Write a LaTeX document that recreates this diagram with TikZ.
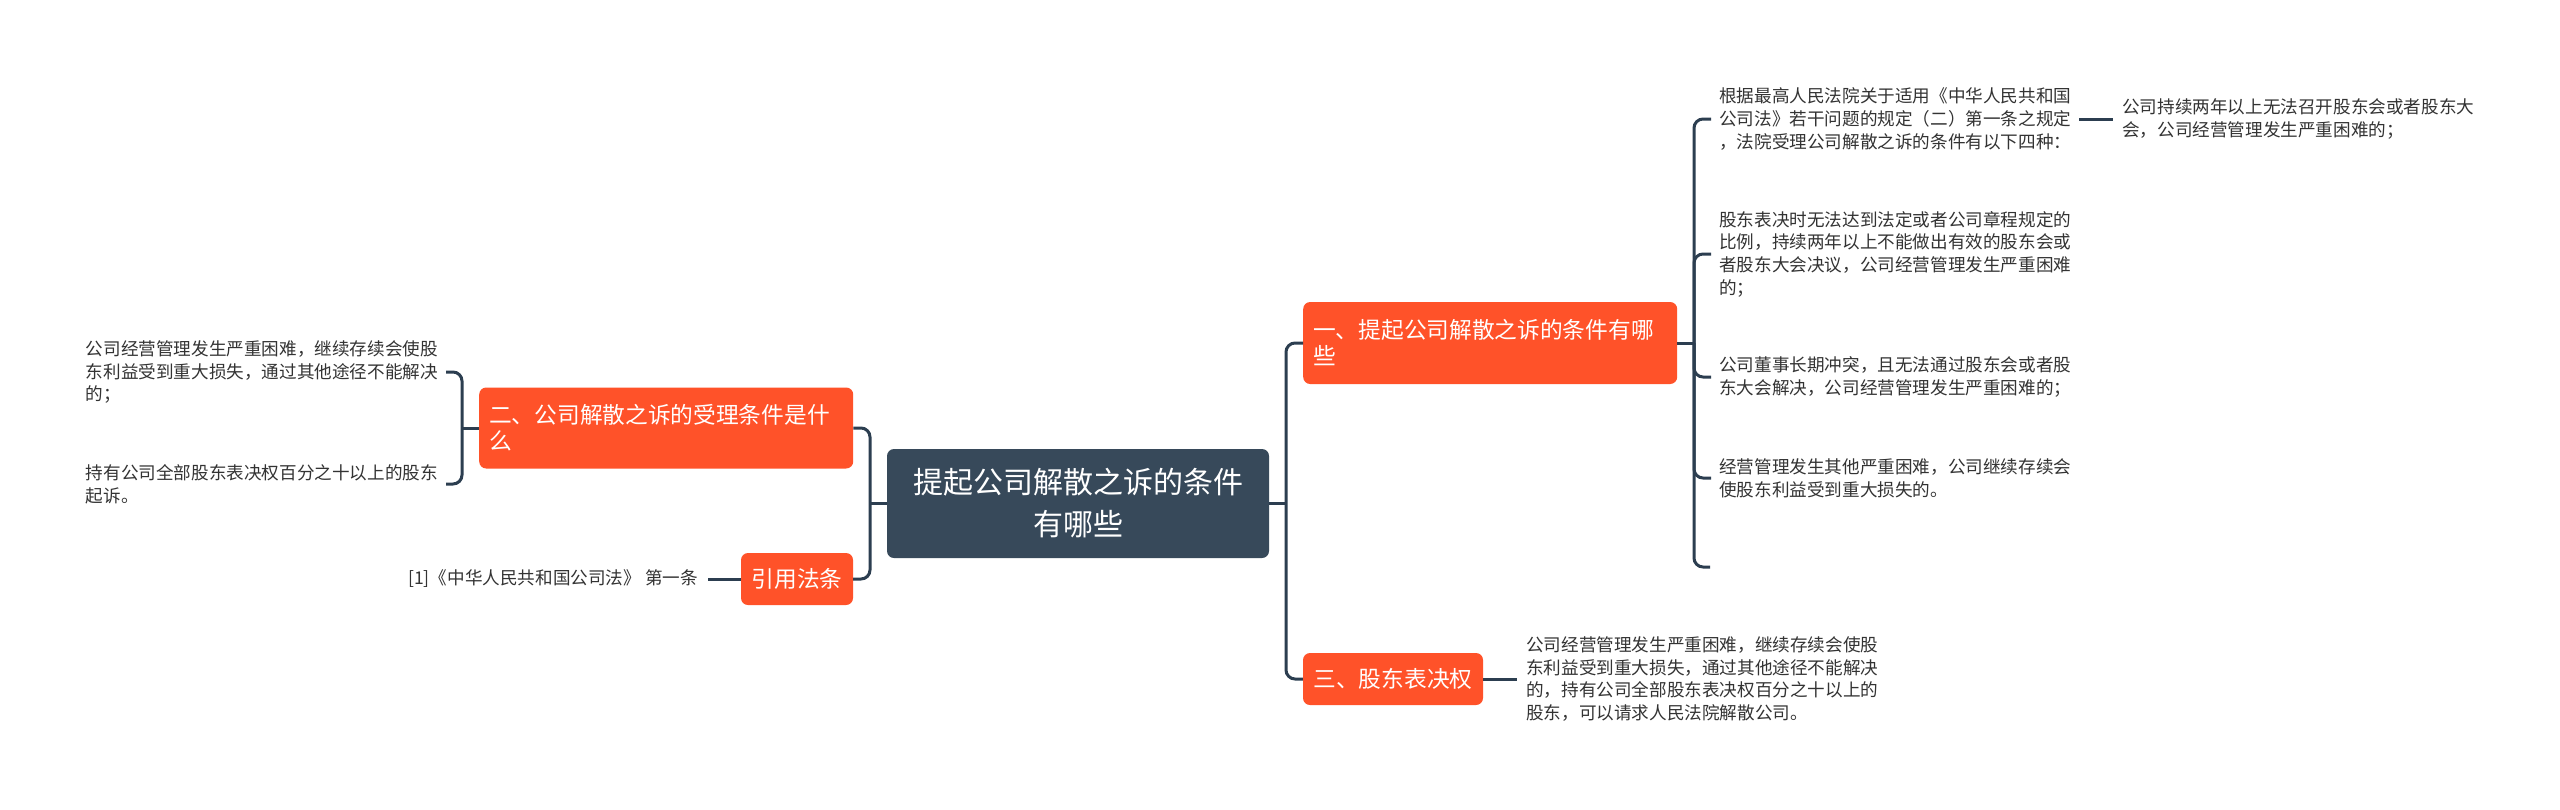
\documentclass[tikz,border=0pt]{standalone}
\usepackage{fontspec}
\setmainfont{Noto Sans CJK SC}
\usetikzlibrary{calc}
\definecolor{orng}{HTML}{FF5229}
\definecolor{dark}{HTML}{37495A}
\definecolor{lnc}{HTML}{2C3E50}
\definecolor{txt}{HTML}{333333}
\begin{document}
\begin{tikzpicture}[x=1pt,y=-1pt,
 link/.style={draw=lnc,line width=3pt,rounded corners=9pt},
 rootbox/.style={fill=dark,text=white,rounded corners=7pt,minimum width=382pt,minimum height=109pt,align=center,font=\fontsize{30}{42}\selectfont,inner sep=0pt},
 subbox/.style={fill=orng,text=white,rounded corners=7pt,align=left,font=\fontsize{22.7}{26}\selectfont,inner xsep=10pt,inner ysep=0pt},
 leaf/.style={text=txt,align=left,font=\fontsize{17.6}{22.7}\selectfont,inner xsep=8pt,inner ysep=0pt}]
\useasboundingbox[fill=white] (0,0) rectangle (2560,809);

% root
\node[rootbox] (root) at (1078,503.5) {提起公司解散之诉的条件\\有哪些};

% main branches
\node[subbox,anchor=west,text width=354pt,minimum height=82pt] (b1) at (1303,343) {一、提起公司解散之诉的条件有哪\\些};
\node[subbox,anchor=west,text width=354pt,minimum height=81pt] (b2) at (479,428) {二、公司解散之诉的受理条件是什\\么};
\node[subbox,align=center,minimum width=112pt,minimum height=52pt] (cite) at (797,579) {引用法条};
\node[subbox,align=center,minimum width=180pt,minimum height=52pt] (b3) at (1393,679) {三、股东表决权};

% trunk coordinates
\coordinate (rt) at (1286,503.5);
\coordinate (lt) at (870,503.5);
\coordinate (bk1) at (1694,343);
\coordinate (bk2) at (462,428);

% right leaves of b1
\node[leaf,anchor=west] (r1) at (1711,119) {根据最高人民法院关于适用《中华人民共和国\\公司法》若干问题的规定（二）第一条之规定\\，法院受理公司解散之诉的条件有以下四种：};
\node[leaf,anchor=west] (r2) at (1711,254) {股东表决时无法达到法定或者公司章程规定的\\比例，持续两年以上不能做出有效的股东会或\\者股东大会决议，公司经营管理发生严重困难\\的；};
\node[leaf,anchor=west] (r3) at (1711,377) {公司董事长期冲突，且无法通过股东会或者股\\东大会解决，公司经营管理发生严重困难的；};
\node[leaf,anchor=west] (r4) at (1711,478) {经营管理发生其他严重困难，公司继续存续会\\使股东利益受到重大损失的。};
\coordinate (r5) at (1710,567);
\node[leaf,anchor=west,inner xsep=9pt] (r1c) at (2113,119) {公司持续两年以上无法召开股东会或者股东大\\会，公司经营管理发生严重困难的；};

% left leaves of b2
\node[leaf,anchor=east] (la) at (446,372) {公司经营管理发生严重困难，继续存续会使股\\东利益受到重大损失，通过其他途径不能解决\\的；};
\node[leaf,anchor=east] (lb) at (446,484) {持有公司全部股东表决权百分之十以上的股东\\起诉。};

% citation text
\node[leaf,anchor=east,inner xsep=10pt] (ct) at (708,579) {[1]《中华人民共和国公司法》 第一条};

% b3 text
\node[leaf,anchor=west,inner xsep=9pt] (t3) at (1517,679) {公司经营管理发生严重困难，继续存续会使股\\东利益受到重大损失，通过其他途径不能解决\\的，持有公司全部股东表决权百分之十以上的\\股东，可以请求人民法院解散公司。};

% connectors: root
\draw[link] (root.east) -- (rt);
\draw[link] (b1.west) -| (rt) |- (b3.west);
\draw[link] (root.west) -- (lt);
\draw[link] (b2.east) -| (lt) |- (cite.west -| cite.east);

% b1 bracket
\draw[link] (b1.east) -- (bk1);
\draw[link] (r1.west) -| (bk1) |- (r5);
\draw[link] (r2.west) -| (bk1);
\draw[link] (r3.west) -| (bk1);
\draw[link] (r4.west) -| (bk1);
\draw[link] (r1.east) -- (r1c.west);

% b2 bracket
\draw[link] (b2.west) -- (bk2);
\draw[link] (la.east) -| (bk2) |- (lb.east);

% others
\draw[link] (b3.east) -- (t3.west);
\draw[link] (cite.west) -- (ct.east);
\end{tikzpicture}
\end{document}
